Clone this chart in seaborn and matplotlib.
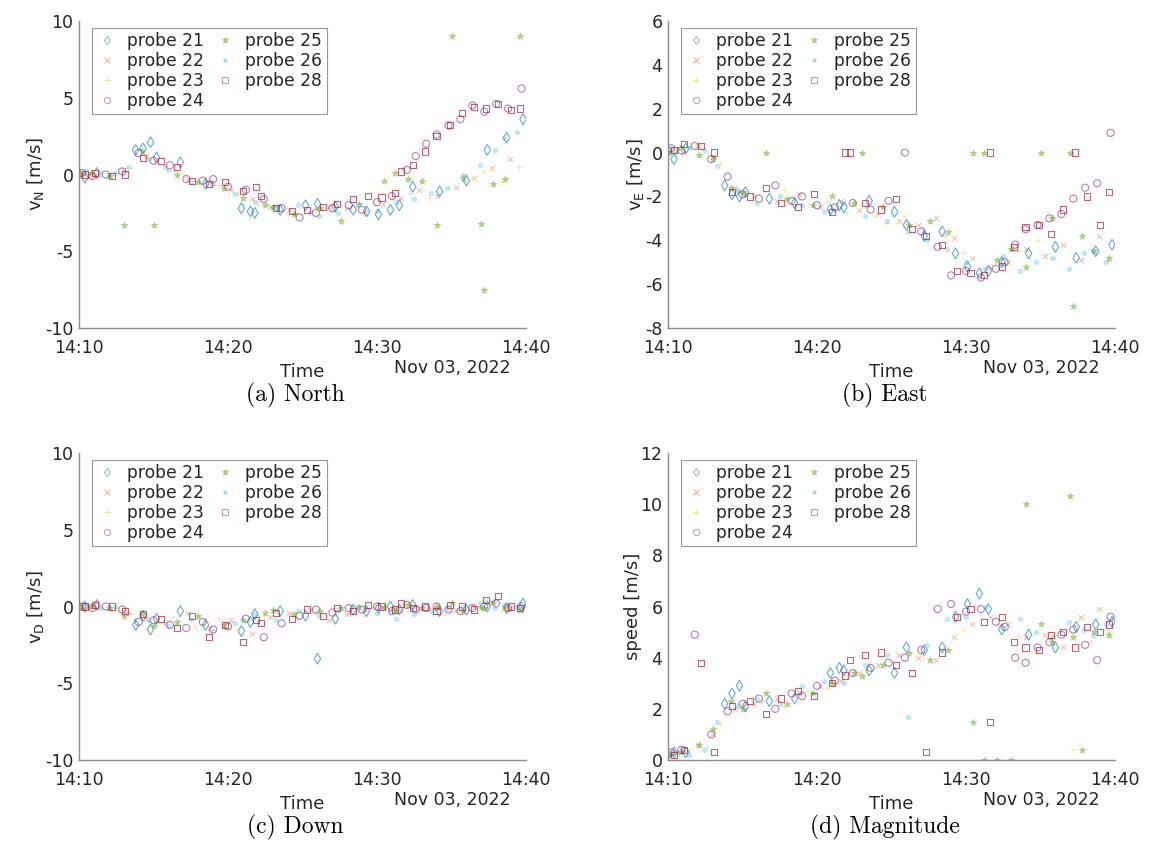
import numpy as np
import pandas as pd
import matplotlib
matplotlib.use("Agg")
import matplotlib.pyplot as plt
from matplotlib.lines import Line2D
import seaborn as sns

# ---------------- data (minutes after 14:10, Nov 03 2022) ----------------
probes = ["probe 21", "probe 22", "probe 23", "probe 24", "probe 25", "probe 26", "probe 28"]

t21 = [0.0, 0.4, 1.2, 3.8, 4.3, 4.8, 5.2, 6.8, 8.5, 10.9, 11.5, 11.8, 13.5, 15.2, 16.0, 17.2, 18.4, 19.3, 20.1, 20.9, 21.5, 22.4, 24.2, 26.0, 27.4, 28.7, 29.8]
vN21 = [0.0, -0.2, 0.1, 1.6, 1.7, 2.1, 1.1, 0.8, -0.6, -2.2, -2.4, -2.5, -2.3, -2.0, -1.9, -2.1, -2.3, -2.4, -2.6, -2.3, -2.0, -0.8, -1.1, -0.4, 1.6, 2.4, 3.6]
vE21 = [0.1, -0.3, 0.2, -1.5, -1.9, -2.0, -1.8, -2.1, -2.3, -2.6, -2.4, -2.5, -2.2, -2.7, -3.3, -3.8, -3.6, -4.6, -5.2, -5.5, -5.4, -5.0, -4.6, -4.3, -4.8, -4.5, -4.2]
vD21 = [0.0, 0.0, 0.1, -1.2, -0.6, -1.5, -0.8, -0.3, -1.2, -1.6, -1.0, -0.5, -0.3, -0.6, -3.4, -0.8, -0.2, -0.3, -0.1, 0.0, -0.2, 0.1, -0.3, -0.2, 0.0, -0.1, 0.2]
sp21 = [0.2, 0.3, 0.3, 2.2, 2.6, 2.9, 2.1, 2.3, 2.4, 3.4, 3.6, 3.5, 3.5, 3.4, 4.4, 4.3, 4.4, 5.6, 6.1, 6.5, 5.9, 5.1, 4.9, 4.4, 5.2, 5.3, 5.4]

t22 = [0.3, 1.0, 2.0, 3.0, 4.5, 5.8, 7.3, 8.8, 10.2, 11.6, 12.8, 14.1, 15.5, 16.8, 18.0, 19.2, 20.4, 21.6, 22.8, 24.0, 25.3, 26.5, 27.7, 28.9]
vN22 = [0.1, -0.1, 0.0, 0.3, 1.2, 0.5, -0.3, -0.5, -1.0, -1.6, -2.1, -2.3, -2.5, -2.1, -2.2, -2.5, -1.9, -1.5, -1.0, -1.4, -0.8, -0.2, 0.4, 1.0]
vE22 = [0.2, 0.0, 0.3, -0.2, -1.6, -2.0, -2.2, -1.9, -2.5, -2.2, -2.6, -2.8, -3.1, -3.3, -3.0, -3.9, -4.8, -5.2, -5.0, -4.4, -4.7, -4.2, -4.9, -3.8]
vD22 = [0.0, 0.1, -0.1, -0.3, -0.8, -1.1, -0.4, -1.4, -0.9, -1.8, -0.7, -0.4, -0.2, -0.9, -0.5, -0.2, 0.0, -0.3, -0.1, 0.1, -0.2, 0.0, 0.3, -0.1]
sp22 = [0.3, 0.4, 0.6, 1.0, 2.0, 2.2, 2.4, 2.6, 2.9, 3.1, 3.4, 3.7, 4.1, 4.0, 3.9, 4.8, 5.3, 5.6, 5.3, 4.8, 4.9, 4.4, 5.6, 5.9]

t23 = [0.6, 1.5, 2.6, 3.5, 5.0, 6.3, 7.8, 9.4, 10.7, 12.0, 13.3, 14.6, 15.9, 17.1, 18.6, 19.8, 21.0, 22.2, 23.5, 24.8, 26.0, 27.2, 28.4, 29.5]
vN23 = [0.0, 0.2, 0.1, 0.4, 1.0, 0.2, -0.4, -0.7, -1.2, -1.9, -2.0, -2.6, -2.4, -1.8, -2.3, -2.0, -1.6, -1.2, -1.5, -0.9, -0.4, 0.2, -0.5, 0.5]
vE23 = [0.1, 0.3, 0.0, -0.5, -1.8, -2.2, -1.7, -2.4, -2.2, -2.7, -2.4, -3.2, -2.9, -3.5, -3.8, -4.6, -5.3, -5.1, -4.5, -4.0, -4.8, -0.1, -4.4, -4.9]
vD23 = [-0.1, 0.0, -0.2, -0.5, -1.0, -0.7, -1.3, -0.8, -1.5, -0.6, -0.3, -0.8, -0.4, -0.1, -0.3, 0.0, -0.2, 0.1, -0.1, -0.3, 0.0, 0.4, -0.2, 0.1]
sp23 = [0.2, 0.4, 0.5, 1.4, 2.2, 2.3, 2.1, 2.7, 2.8, 3.3, 3.5, 4.3, 3.9, 4.0, 4.5, 5.1, 5.6, 5.3, 4.8, 4.2, 4.9, 0.4, 4.6, 5.0]

t24 = [0.2, 0.9, 1.8, 2.9, 4.0, 5.0, 6.1, 7.2, 8.3, 9.0, 10.0, 11.2, 12.4, 13.6, 14.8, 15.9, 17.0, 18.1, 19.0, 20.0, 21.0, 22.0, 22.6, 23.3, 24.0, 24.8, 25.6, 26.4, 27.2, 28.0, 28.8, 29.7]
vN24 = [0.1, -0.1, 0.0, 0.2, 1.4, 0.9, 0.6, -0.3, -0.4, -0.3, -0.8, -1.0, -1.6, -2.2, -2.8, -2.5, -2.2, -2.0, -2.3, -1.8, -1.4, 0.3, 1.2, 2.0, 2.6, 3.2, 3.6, 4.5, 4.1, 4.6, 4.3, 5.6]
vE24 = [0.2, 0.1, 0.3, -0.3, -1.1, -1.9, -2.1, -1.5, -2.2, -2.0, -2.4, -2.5, -2.3, -2.6, -2.2, 0.0, -3.6, -4.3, -5.6, -5.4, -5.7, -5.3, -5.0, -4.2, -3.5, -3.3, -3.0, -2.8, -2.1, -1.6, -1.4, 0.9]
vD24 = [0.0, -0.1, 0.0, -0.2, -1.0, -0.9, -1.2, -1.4, -1.0, -1.5, -1.3, -0.8, -2.0, -1.1, -0.6, -0.2, -0.4, -0.1, -0.2, 0.0, -0.3, 0.1, -0.2, -0.1, 0.0, -0.2, -0.3, -0.1, 0.0, 0.2, -0.1, 0.0]
sp24 = [0.3, 0.4, 4.9, 1.0, 1.9, 2.2, 2.4, 2.0, 2.6, 2.5, 2.9, 3.1, 3.4, 3.6, 3.8, 4.0, 4.3, 5.9, 6.1, 5.8, 5.9, 5.4, 5.2, 4.0, 3.8, 4.4, 4.6, 4.9, 5.1, 4.5, 3.9, 5.6]

t25 = [0.1, 0.8, 2.1, 3.0, 4.2, 5.0, 6.6, 8.0, 9.7, 11.0, 12.5, 13.0, 14.4, 16.2, 17.6, 18.8, 20.5, 21.2, 22.1, 23.0, 24.0, 25.0, 25.8, 27.0, 27.2, 27.8, 28.6, 29.6]
vN25 = [0.0, 0.1, -0.1, -3.3, 1.5, -3.3, 0.0, -0.5, -0.9, -1.5, -2.0, -2.1, -2.6, -2.2, -3.0, -1.9, -0.4, 0.1, -0.3, -0.4, -3.3, 9.0, -0.2, -3.2, -7.5, -0.6, -0.3, 9.0]
vE25 = [0.0, 0.2, -0.1, -0.3, -1.6, -1.8, 0.0, -2.1, -2.4, -2.0, -2.3, 0.0, -2.5, -3.3, -3.1, -3.6, 0.0, 0.0, -4.9, -4.4, -5.2, 0.0, -3.0, 0.0, -7.0, -3.8, -4.5, -4.8]
vD25 = [0.0, 0.0, -0.1, -0.6, -0.5, -1.3, -1.0, -0.6, -1.2, -0.9, -0.4, -0.2, -0.5, -0.3, -0.1, 0.0, 0.0, -0.2, 0.1, -0.1, 0.0, 0.2, -0.3, 0.0, -0.1, 0.3, 0.0, -0.2]
sp25 = [0.2, 0.3, 0.6, 1.2, 2.3, 2.0, 2.6, 2.2, 2.6, 3.0, 3.4, 3.3, 3.7, 4.2, 3.9, 4.3, 1.5, 0.0, 0.0, 0.0, 10.0, 5.3, 4.6, 10.3, 4.8, 0.4, 5.0, 4.9]

t26 = [0.5, 1.4, 2.4, 3.3, 4.7, 6.0, 7.5, 9.0, 10.5, 11.8, 13.2, 14.7, 16.1, 17.4, 18.7, 20.0, 21.3, 22.5, 23.6, 24.7, 25.8, 26.9, 27.9, 28.5, 29.4]
vN26 = [0.2, 0.0, 0.1, 0.5, 1.0, 0.3, -0.5, -0.6, -1.3, -1.8, -2.2, -2.0, -2.7, -2.5, -2.0, -2.4, -1.8, -1.6, -1.2, -0.9, 0.0, 0.6, 1.6, 2.4, 2.8]
vE26 = [0.0, 0.2, 0.1, -0.6, -1.7, -2.3, -2.0, -2.4, -2.7, -2.3, -2.9, -3.1, -3.6, -4.0, -4.4, -5.0, -5.3, -4.7, -5.4, -5.0, -4.8, -5.3, -4.6, -4.5, -5.0]
vD26 = [0.1, -0.1, 0.0, -0.4, -0.9, -1.3, -0.8, -1.6, -1.1, -0.5, -0.9, -0.3, -0.6, -0.2, 0.0, -0.4, -0.8, -0.5, -0.3, -0.1, 0.0, 0.2, -0.1, 0.1, 0.0]
sp26 = [0.3, 0.2, 0.4, 1.5, 2.1, 2.4, 2.2, 2.9, 3.1, 3.0, 3.7, 4.1, 1.7, 4.5, 5.5, 5.6, 6.0, 5.2, 5.5, 5.0, 4.8, 5.4, 5.1, 4.9, 5.3]

t28 = [0.4, 1.1, 2.2, 3.1, 4.3, 5.5, 6.6, 7.6, 8.7, 9.8, 11.0, 11.9, 12.2, 13.2, 14.3, 15.3, 16.4, 17.3, 18.4, 19.4, 20.3, 21.2, 21.6, 22.4, 23.2, 24.0, 24.9, 25.7, 26.5, 27.3, 28.1, 29.0, 29.6]
vN28 = [0.0, 0.1, -0.1, 0.0, 1.1, 0.9, 0.5, -0.4, -0.6, -0.5, -1.1, -0.8, -1.4, -2.2, -2.4, -2.3, -2.1, -1.9, -1.6, -1.4, -1.5, -1.2, 0.2, 0.6, 1.5, 2.5, 3.2, 4.0, 4.4, 4.3, 4.6, 4.2, 4.3]
vE28 = [0.1, 0.4, 0.3, 0.0, -1.8, -2.0, -1.6, -2.3, -2.5, -1.9, -2.7, 0.0, 0.0, -2.3, -2.6, -2.1, -3.5, -3.8, -4.2, -5.4, -5.5, -5.6, 0.0, -5.2, -4.3, -3.4, -3.3, -3.7, -2.6, 0.0, -2.0, -3.3, -1.8]
vD28 = [0.0, 0.1, 0.0, -0.3, -0.5, -0.8, -1.4, -0.6, -2.0, -1.2, -2.3, -0.9, -1.1, -0.4, -0.8, -0.2, -0.6, -0.1, -0.3, 0.1, 0.0, -0.2, 0.2, -0.1, 0.0, -0.3, 0.1, 0.0, -0.2, 0.4, 0.7, 0.0, -0.1]
sp28 = [0.2, 0.4, 3.8, 0.3, 2.1, 2.3, 1.8, 2.4, 2.7, 2.5, 3.0, 3.3, 3.9, 4.1, 4.2, 3.7, 3.4, 0.3, 4.2, 5.6, 5.9, 5.4, 1.5, 5.6, 4.6, 4.4, 4.3, 4.9, 5.0, 4.4, 5.2, 5.0, 5.3]

times = {"probe 21": t21, "probe 22": t22, "probe 23": t23, "probe 24": t24,
         "probe 25": t25, "probe 26": t26, "probe 28": t28}
vals = {
    "vN": {"probe 21": vN21, "probe 22": vN22, "probe 23": vN23, "probe 24": vN24, "probe 25": vN25, "probe 26": vN26, "probe 28": vN28},
    "vE": {"probe 21": vE21, "probe 22": vE22, "probe 23": vE23, "probe 24": vE24, "probe 25": vE25, "probe 26": vE26, "probe 28": vE28},
    "vD": {"probe 21": vD21, "probe 22": vD22, "probe 23": vD23, "probe 24": vD24, "probe 25": vD25, "probe 26": vD26, "probe 28": vD28},
    "speed": {"probe 21": sp21, "probe 22": sp22, "probe 23": sp23, "probe 24": sp24, "probe 25": sp25, "probe 26": sp26, "probe 28": sp28},
}

panel_keys = ["vN", "vE", "vD", "speed"]
ylabels = [r"v$_{\rm N}$ [m/s]", r"v$_{\rm E}$ [m/s]", r"v$_{\rm D}$ [m/s]", "speed [m/s]"]
ylims = [(-10, 10), (-8, 6), (-10, 10), (0, 12)]
yticks = [[-10, -5, 0, 5, 10], [-8, -6, -4, -2, 0, 2, 4, 6], [-10, -5, 0, 5, 10], [0, 2, 4, 6, 8, 10, 12]]
captions = ["(a) North", "(b) East", "(c) Down", "(d) Magnitude"]
date_text = "Nov 03, 2022"
xtick_labels = ["14:10", "14:20", "14:30", "14:40"]

# ---------------- styling ----------------
colors = {"probe 21": (0.0, 0.447, 0.741), "probe 22": (0.85, 0.325, 0.098),
          "probe 23": (0.929, 0.694, 0.125), "probe 24": (0.494, 0.184, 0.556),
          "probe 25": (0.466, 0.674, 0.188), "probe 26": (0.301, 0.745, 0.933),
          "probe 28": (0.635, 0.078, 0.184)}
markers = {"probe 21": "d", "probe 22": "x", "probe 23": "+", "probe 24": "o",
           "probe 25": "*", "probe 26": ".", "probe 28": "s"}
open_marker = {"probe 21", "probe 24", "probe 28"}
alphas = {"probe 21": 0.6, "probe 22": 0.35, "probe 23": 0.3, "probe 24": 0.6,
          "probe 25": 0.45, "probe 26": 0.3, "probe 28": 0.65}
sizes = {"probe 21": 30, "probe 22": 14, "probe 23": 18, "probe 24": 26,
         "probe 25": 22, "probe 26": 36, "probe 28": 20}

sns.set_style("white")
plt.rcParams["font.family"] = ["DejaVu Sans"]
plt.rcParams["mathtext.fontset"] = "dejavusans"

fig = plt.figure(figsize=(11.68, 8.6), dpi=100)
W, H = 1168, 860
boxes = [(79, 21, 526, 328), (668, 21, 1115, 328), (79, 453, 526, 760), (668, 453, 1115, 760)]

base = pd.Timestamp("2022-11-03 14:10:00")
spine_c = "0.55"
text_c = "0.15"

for i, key in enumerate(panel_keys):
    x0, y0, x1, y1 = boxes[i]
    ax = fig.add_axes([x0 / W, 1 - y1 / H, (x1 - x0) / W, (y1 - y0) / H])
    for p in probes:
        df = pd.DataFrame({"time": base + pd.to_timedelta(np.array(times[p]), unit="m"),
                           "value": vals[key][p]})
        c = colors[p]
        sns.scatterplot(data=df, x="time", y="value", marker=markers[p], color=c,
                        s=sizes[p], alpha=alphas[p], linewidth=0.8, ax=ax, legend=False)
        coll = ax.collections[-1]
        if p in open_marker:
            coll.set_facecolor("none")
        coll.set_edgecolor(c)
    ax.set_xlim(base, base + pd.Timedelta(minutes=30))
    ax.set_ylim(*ylims[i])
    ax.set_yticks(yticks[i])
    ax.set_yticklabels([str(v) for v in yticks[i]])
    xt = [base + pd.Timedelta(minutes=10 * k) for k in range(4)]
    ax.set_xticks(xt)
    ax.set_xticklabels(xtick_labels)
    ax.tick_params(axis="both", direction="in", length=4, width=0.8, color=spine_c,
                   labelsize=12.5, labelcolor=text_c)
    ax.tick_params(axis="x", pad=8)
    ax.tick_params(axis="y", pad=4)
    for s in ["top", "right"]:
        ax.spines[s].set_visible(False)
    for s in ["left", "bottom"]:
        ax.spines[s].set_color(spine_c)
        ax.spines[s].set_linewidth(1.0)
    ax.set_xlabel("Time", fontsize=13, color=text_c, labelpad=4)
    ax.set_ylabel(ylabels[i], fontsize=13, color=text_c, labelpad=-1)
    ax.text(0.835, -0.13, date_text, transform=ax.transAxes, ha="center", va="center",
            fontsize=12.5, color=text_c)

    handles = []
    for p in probes:
        c = colors[p]
        handles.append(Line2D([], [], ls="", marker=markers[p], markersize=4.5,
                              markeredgecolor=c,
                              markerfacecolor=("none" if p in open_marker else c),
                              alpha=0.45, markeredgewidth=0.8))
    leg = ax.legend(handles, probes, ncol=2, loc="upper left",
                    bbox_to_anchor=(0.03, 0.978), fontsize=12.3, frameon=True,
                    fancybox=False, edgecolor="0.6", framealpha=1,
                    handletextpad=0.6, columnspacing=0.6, labelspacing=0.12,
                    borderpad=0.25, handlelength=1.2, borderaxespad=0)
    leg.get_frame().set_linewidth(0.8)
    for t in leg.get_texts():
        t.set_color(text_c)

    cx = (x0 + x1) / 2 / W
    cy = 1 - (y1 + 67) / H
    fig.text(cx - 0.006, cy, captions[i], ha="center", va="center", fontsize=17,
             family="cmr10", color="black")

fig.savefig("out.png", dpi=100)
